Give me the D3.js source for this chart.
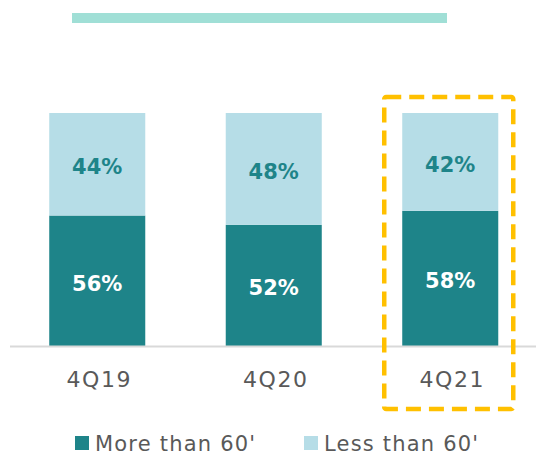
<!DOCTYPE html>
<html><head><meta charset="utf-8">
<script src="https://cdn.jsdelivr.net/npm/d3@7"></script>
<style>html,body{margin:0;padding:0;background:#fff;overflow:hidden}</style>
</head><body>
<script>
const categories = ["4Q19", "4Q20", "4Q21"];
const moreThan60 = [56, 52, 58];
const lessThan60 = [44, 48, 42];
const seriesNames = ["More than 60'", "Less than 60'"];
const highlighted = "4Q21";

const W = 536, H = 455;
const dark = "#1E8489", light = "#B6DDE7";
const svg = d3.select("body").append("svg").attr("width", W).attr("height", H);

const x = d3.scaleBand().domain(categories).range([9, 538.5]).paddingInner(0.456).paddingOuter(0.228);
const y = d3.scaleLinear().domain([0, 100]).range([346, 113]);

// top decorative bar
svg.append("rect").attr("x", 72).attr("y", 13).attr("width", 375).attr("height", 10).attr("fill", "#A0DFD6");

const data = categories.map((c, i) => ({c, more: moreThan60[i], less: lessThan60[i]}));

// dark segments
svg.selectAll("rect.more").data(data).join("rect").attr("class", "more")
  .attr("x", d => x(d.c)).attr("width", x.bandwidth())
  .attr("y", d => y(d.more)).attr("height", d => y(0) - y(d.more)).attr("fill", dark);
// light segments
svg.selectAll("rect.less").data(data).join("rect").attr("class", "less")
  .attr("x", d => x(d.c)).attr("width", x.bandwidth())
  .attr("y", d => y(d.more + d.less)).attr("height", d => y(d.more) - y(d.more + d.less)).attr("fill", light);

const font = "'DejaVu Sans', sans-serif";
svg.selectAll("text.more").data(data).join("text")
  .attr("x", d => x(d.c) + x.bandwidth() / 2).attr("y", d => (y(0) + y(d.more)) / 2 + 10)
  .attr("text-anchor", "middle").attr("font-family", font).attr("font-weight", "bold")
  .attr("font-size", 21).attr("fill", "#fff").text(d => d.more + "%");
svg.selectAll("text.less").data(data).join("text")
  .attr("x", d => x(d.c) + x.bandwidth() / 2).attr("y", d => (y(d.more) + y(d.more + d.less)) / 2 + 10)
  .attr("text-anchor", "middle").attr("font-family", font).attr("font-weight", "bold")
  .attr("font-size", 21).attr("fill", dark).text(d => d.less + "%");

// axis
const axis = svg.append("g").attr("transform", "translate(0,346)")
  .call(d3.axisBottom(x).tickSize(0).tickPadding(0));
axis.select(".domain").attr("d", "M10,0.5H536").attr("stroke", "#D9D9D9").attr("stroke-width", 2);
axis.selectAll("text").attr("y", 41).attr("x", 2).attr("dy", null).attr("font-family", font)
  .attr("font-size", 22).attr("fill", "#595959").attr("letter-spacing", 1.5);

// highlight box
const hx = x(highlighted);
svg.append("rect").attr("x", hx - 18).attr("y", 97).attr("width", x.bandwidth() + 33).attr("height", 312)
  .attr("rx", 2).attr("fill", "none").attr("stroke", "#FFC000").attr("stroke-width", 4.5)
  .attr("stroke-dasharray", "15,8");

// legend
const leg = [{n: seriesNames[0], c: dark, x: 75}, {n: seriesNames[1], c: light, x: 304}];
const lg = svg.selectAll("g.leg").data(leg).join("g").attr("transform", d => `translate(${d.x},436)`);
lg.append("rect").attr("width", 14).attr("height", 14).attr("fill", d => d.c);
lg.append("text").attr("x", 20).attr("y", 15).attr("font-family", font).attr("font-size", 21)
  .attr("fill", "#595959").attr("letter-spacing", 1.2).text(d => d.n);
</script>
</body></html>
